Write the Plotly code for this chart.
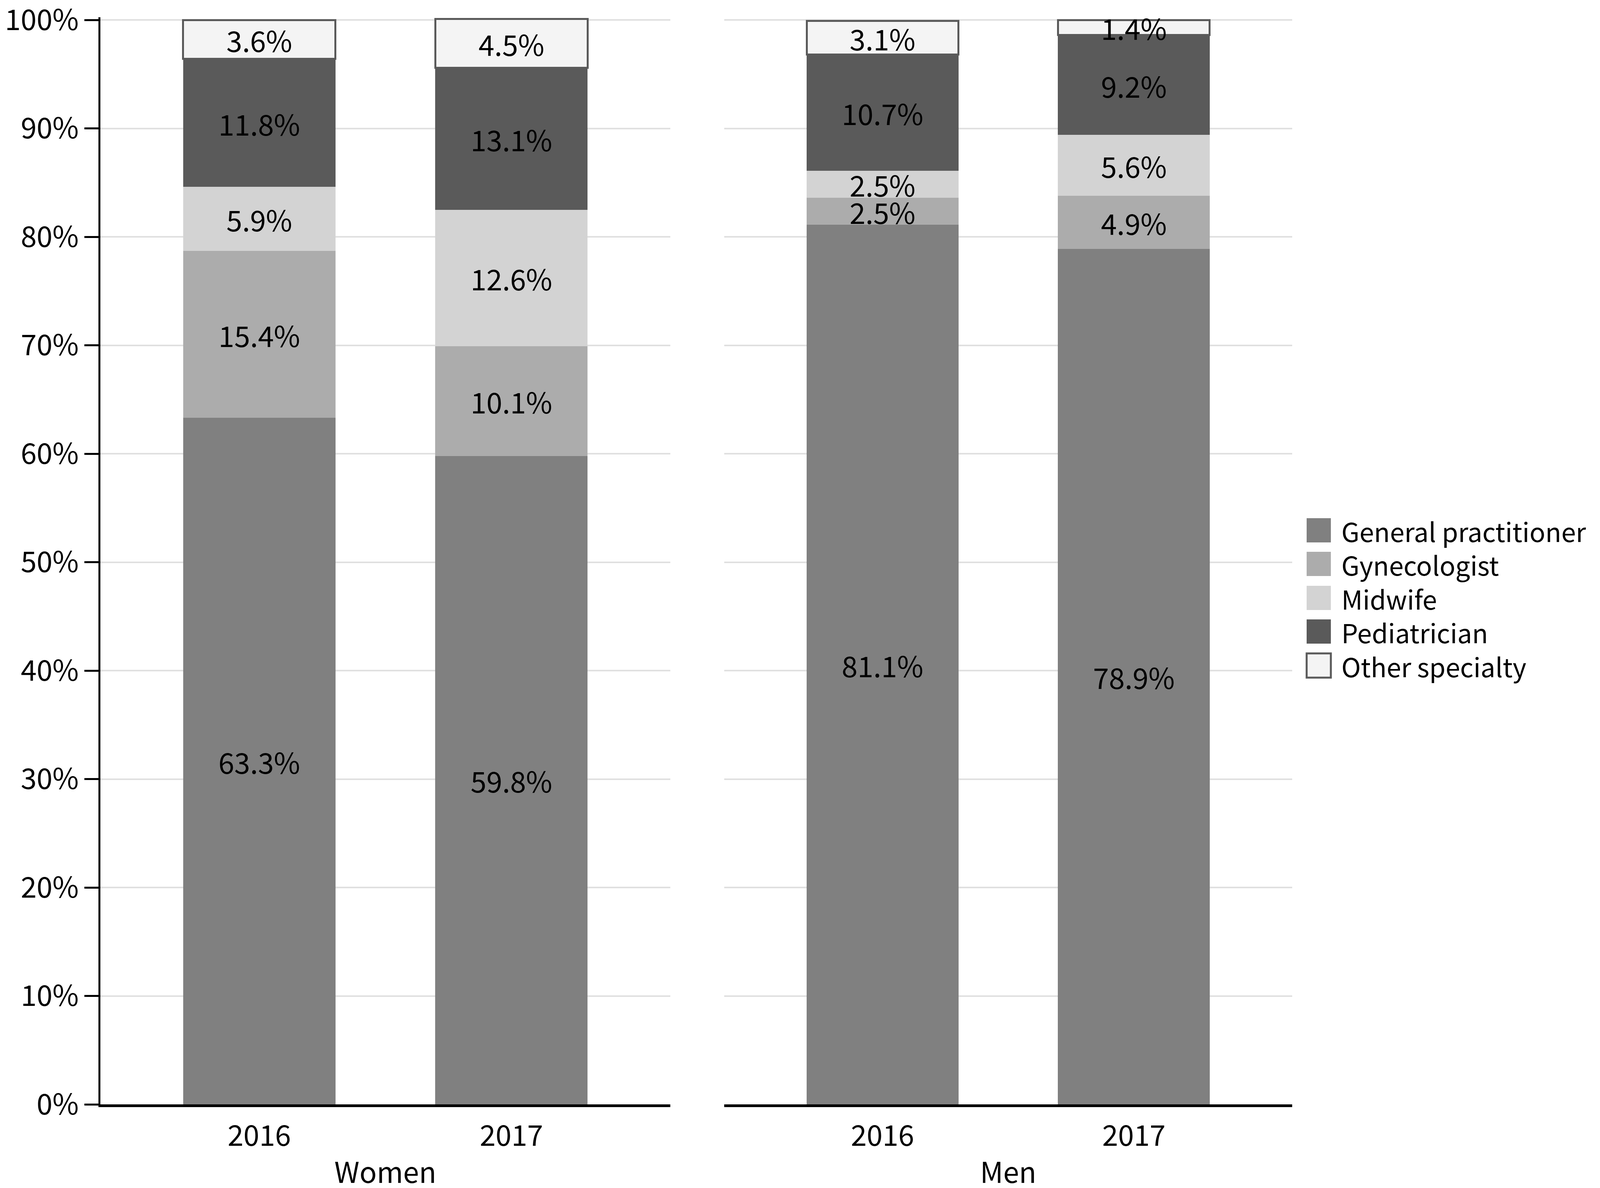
import plotly.graph_objects as go

# ---------------- data ----------------
years = ["2016", "2017"]
groups = ["Women", "Men"]
specialties = ["General practitioner", "Gynecologist", "Midwife", "Pediatrician", "Other specialty"]

gp_women = [63.3, 59.8]
gyn_women = [15.4, 10.1]
mid_women = [5.9, 12.6]
ped_women = [11.8, 13.1]
oth_women = [3.6, 4.5]

gp_men = [81.1, 78.9]
gyn_men = [2.5, 4.9]
mid_men = [2.5, 5.6]
ped_men = [10.7, 9.2]
oth_men = [3.1, 1.4]

y_ticks = [0, 10, 20, 30, 40, 50, 60, 70, 80, 90, 100]
y_tick_text = ["0%", "10%", "20%", "30%", "40%", "50%", "60%", "70%", "80%", "90%", "100%"]

# ---------------- style ----------------
colors = ["#808080", "#acacac", "#d3d3d3", "#5a5a5a", "#f4f4f4"]
line_colors = ["#808080", "#acacac", "#d3d3d3", "#5a5a5a", "#5a5a5a"]
line_widths = [0, 0, 0, 0, 5]
FONT = "Noto Sans CJK KR"
FS = 73
LEG_FS = 67
W, H = 4107, 3040
YMAX = 100.25

women_series = [gp_women, gyn_women, mid_women, ped_women, oth_women]
men_series = [gp_men, gyn_men, mid_men, ped_men, oth_men]

fig = go.Figure()
for gi, series in enumerate([women_series, men_series]):
    xa = "x" if gi == 0 else "x2"
    ya = "y" if gi == 0 else "y2"
    for si, vals in enumerate(series):
        fig.add_trace(go.Bar(
            x=years, y=vals, name=specialties[si],
            xaxis=xa, yaxis=ya,
            width=0.604,
            marker=dict(color=colors[si], line=dict(color=line_colors[si], width=line_widths[si])),
            texttemplate="%{y:.1f}%",
            textposition="inside",
            insidetextanchor="middle",
            textangle=0,
            textfont=dict(family=FONT, size=FS, color="black"),
            cliponaxis=False,
            showlegend=False,
        ))

bottom_px = 2818
unit_px = (2818 - 43) / 100.0
top_px = bottom_px - unit_px * YMAX
xdom_l = [249 / W, 1708 / W]
xdom_r = [1846 / W, 3300 / W]
ydom = [1 - bottom_px / H, 1 - top_px / H]

axis_x_common = dict(
    type="category", range=[-0.63, 1.63], showline=True, linewidth=7, linecolor="black",
    ticks="", showgrid=False, zeroline=False, ticklabelstandoff=11, automargin=False,
    tickfont=dict(family=FONT, size=FS, color="black"),
    title=dict(font=dict(family=FONT, size=FS, color="black"), standoff=30),
)

fig.update_layout(
    width=W, height=H,
    margin=dict(l=0, r=0, t=0, b=0),
    paper_bgcolor="white", plot_bgcolor="white",
    barmode="stack",
    uniformtext=dict(mode="show", minsize=FS),
    font=dict(family=FONT, size=FS, color="black"),
    xaxis=dict(domain=xdom_l, anchor="y", title_text=groups[0], **axis_x_common),
    xaxis2=dict(domain=xdom_r, anchor="y2", title_text=groups[1], **axis_x_common),
    yaxis=dict(
        domain=ydom, range=[0, YMAX], tickvals=y_ticks, ticktext=y_tick_text,
        showline=True, linewidth=5, linecolor="black",
        ticks="outside", ticklen=36, tickwidth=5, tickcolor="black",
        showgrid=True, gridcolor="#e0e0e0", gridwidth=4, zeroline=False,
        tickfont=dict(family=FONT, size=FS, color="black"),
        ticklabeloverflow="allow", automargin=False,
        anchor="x",
    ),
    yaxis2=dict(
        domain=ydom, range=[0, YMAX], tickvals=y_ticks,
        showline=False, ticks="", showticklabels=False,
        showgrid=True, gridcolor="#e0e0e0", gridwidth=4, zeroline=False,
        automargin=False,
        anchor="x2",
    ),
)

# custom legend (large swatches)
sq_w = 62 / W
sq_h = 62 / H
leg_x0 = 3337 / W
text_x = 3424 / W
row_centers = [1349, 1435, 1522, 1608, 1695]
for i, name in enumerate(specialties):
    yc = 1 - row_centers[i] / H
    fig.add_shape(type="rect", xref="paper", yref="paper",
                  x0=leg_x0, x1=leg_x0 + sq_w, y0=yc - sq_h / 2, y1=yc + sq_h / 2,
                  fillcolor=colors[i],
                  line=dict(color=line_colors[i], width=line_widths[i]))
    fig.add_annotation(xref="paper", yref="paper", x=text_x, y=yc,
                       text=name, showarrow=False, xanchor="left", yanchor="middle",
                       font=dict(family=FONT, size=LEG_FS, color="black"))

fig.write_html("out.html")
